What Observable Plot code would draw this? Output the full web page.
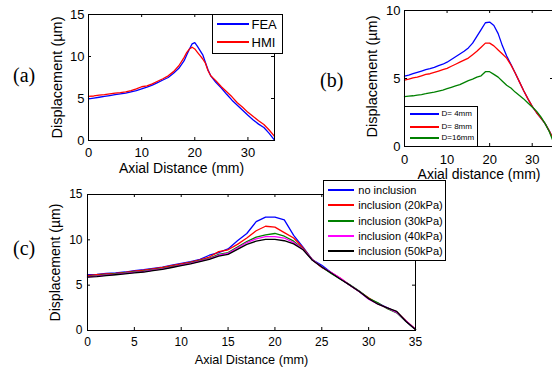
<!DOCTYPE html>
<html><head><meta charset="utf-8">
<script src="https://cdn.jsdelivr.net/npm/d3@7"></script>
<script src="https://cdn.jsdelivr.net/npm/@observablehq/plot@0.6"></script>
<style>
body{margin:0;background:#fff;}
#fig{position:relative;width:552px;height:369px;overflow:hidden;background:#fff;font-family:"Liberation Sans",Arial,Helvetica,sans-serif;color:#000;}
#fig svg.plot{position:absolute;background:transparent;overflow:visible;}
.lab{position:absolute;font-family:"Liberation Serif","Times New Roman",serif;font-size:20px;line-height:20px;transform:translateY(-50%);}
.leg{position:absolute;border:1px solid #000;background:#fff;box-sizing:border-box;}
.leg .sw{position:absolute;height:2px;transform:translateY(-50%);}
.leg .tx{position:absolute;white-space:nowrap;transform:translateY(-50%);line-height:1;}
</style></head><body><div id="fig"></div><script>
// ---------- data ----------
const aX = [0,1,2,3,4,5,6,7,8,9,10,11,12,13,14,15,16,17,18,18.5,19,19.5,20,20.5,21,21.5,22,22.5,23,24,25,26,27,28,29,30,31,32,33,34,35];
const aFEA = [4.95,5.05,5.15,5.25,5.35,5.45,5.55,5.65,5.8,5.95,6.15,6.35,6.6,6.9,7.2,7.5,8.0,8.6,9.5,10.2,10.9,11.5,11.65,11.2,10.7,10.2,9.3,8.4,7.7,6.9,6.25,5.5,4.8,4.2,3.6,3.0,2.45,1.95,1.55,0.85,0.05];
const aHMI = [5.25,5.3,5.4,5.45,5.55,5.65,5.7,5.8,5.95,6.15,6.4,6.5,6.75,7.05,7.35,7.7,8.2,8.9,9.9,10.5,10.9,11.1,10.9,10.5,10.1,9.7,9.2,8.3,7.7,7.1,6.4,5.8,5.2,4.5,3.95,3.35,2.85,2.35,1.9,1.25,0.5];
const aNames = ["FEA","HMI"];
const aColors = ["#0000ff","#ff0000"];

const bX = [0,1,2,3,4,5,6,7,8,9,10,11,12,13,14,15,16,17,18,19,20,21,22,23,24,25,26,27,28,29,30,31,32,33,34,35];
const bD4 = [5.17,5.25,5.35,5.45,5.55,5.65,5.72,5.82,5.95,6.05,6.2,6.4,6.6,6.8,7.0,7.25,7.6,8.1,8.6,9.1,9.15,8.9,8.3,7.4,6.65,6.05,5.4,4.75,4.1,3.5,2.95,2.5,2.1,1.7,1.15,0.5];
const bD8 = [4.88,4.95,5.05,5.1,5.2,5.3,5.35,5.45,5.55,5.65,5.75,5.9,6.05,6.2,6.35,6.5,6.75,7.0,7.3,7.6,7.6,7.4,7.1,6.8,6.5,6.0,5.4,4.75,4.1,3.5,2.95,2.5,2.1,1.7,1.15,0.5];
const bD16 = [3.66,3.7,3.73,3.78,3.82,3.88,3.95,4.0,4.08,4.15,4.25,4.35,4.45,4.55,4.7,4.85,4.95,5.1,5.2,5.5,5.5,5.3,5.1,4.8,4.5,4.3,4.0,3.75,3.5,3.2,2.9,2.6,2.2,1.7,1.1,0.3];
const bNames = ["D= 4mm","D= 8mm","D=16mm"];
const bColors = ["#0000ff","#ff0000","#008000"];

const cX = [0,1,2,3,4,5,6,7,8,9,10,11,12,13,14,15,16,17,18,19,20,21,22,23,24,25,26,27,28,29,30,31,32,33,34,35];
const cNone = [6.15,6.2,6.3,6.35,6.45,6.6,6.7,6.85,7.0,7.2,7.4,7.6,7.85,8.3,8.6,9.0,9.9,10.7,12.0,12.5,12.5,12.2,10.5,9.2,7.8,7.2,6.4,5.7,5.0,4.3,3.5,3.0,2.5,2.0,1.0,0.1];
const c20 = [6.05,6.15,6.25,6.3,6.4,6.55,6.65,6.8,6.95,7.15,7.35,7.55,7.8,8.1,8.7,8.9,9.5,10.2,11.0,11.5,11.4,10.8,10.2,9.1,7.8,6.95,6.4,5.75,5.0,4.3,3.6,2.95,2.45,2.05,1.05,0.15];
const c30 = [5.95,6.05,6.15,6.25,6.35,6.45,6.55,6.7,6.85,7.05,7.25,7.45,7.7,7.95,8.4,8.6,9.2,9.8,10.3,10.55,10.7,10.4,9.85,9.0,7.8,7.0,6.3,5.65,5.05,4.35,3.55,3.05,2.4,1.95,1.0,0.1];
const c40 = [5.92,6.0,6.1,6.2,6.3,6.4,6.5,6.65,6.8,7.0,7.2,7.4,7.65,7.9,8.3,8.5,9.1,9.7,10.1,10.35,10.35,10.2,9.7,8.95,7.8,7.0,6.4,5.75,5.0,4.3,3.45,2.9,2.5,2.0,1.05,0.15];
const c50 = [5.88,5.95,6.05,6.15,6.25,6.35,6.45,6.6,6.75,6.95,7.15,7.35,7.6,7.85,8.2,8.4,8.95,9.5,9.85,10.05,10.05,9.9,9.55,8.9,7.75,7.0,6.35,5.65,5.0,4.3,3.5,2.9,2.5,2.1,1.0,0.1];
const cNames = ["no inclusion","inclusion (20kPa)","inclusion (30kPa)","inclusion (40kPa)","inclusion (50kPa)"];
const cColors = ["#0000ff","#ff0000","#008000","#ff00ff","#000000"];

const xTicksA = [0,10,20,30];
const xTicksC = [0,5,10,15,20,25,30,35];
const yTicks15 = [0,5,10,15];
const yTicks10 = [0,5,10];
const yLabel = "Displacement (\u00b5m)";

// ---------- helpers ----------
const fig = document.getElementById("fig");

function panel(o) {
  const data = o.series.flatMap((vals, k) => o.xs.map((x, i) => ({x, y: vals[i], s: o.names[k]})));
  const fw = o.width - o.ml - o.mr, fh = o.height - o.mt - o.mb, tl = 3;
  const p = Plot.plot({
    width: o.width, height: o.height,
    marginLeft: o.ml, marginRight: o.mr, marginTop: o.mt, marginBottom: o.mb,
    x: {domain: [0, 35]},
    y: {domain: [0, o.yMax]},
    color: {domain: o.names, range: o.colors},
    style: {fontFamily: '"Liberation Sans", Arial, Helvetica, sans-serif', fontSize: o.fs + "px", background: "transparent", color: "#000"},
    marks: [
      Plot.axisX({ticks: o.xTicks, tickSize: 0, tickPadding: o.xPad, label: null, tickFormat: d => String(d)}),
      Plot.axisY({ticks: o.yTicks, tickSize: 0, tickPadding: o.yPad, label: null, tickFormat: d => String(d)}),
      Plot.ruleX(o.xTicks, {insetTop: fh - tl, stroke: "#000"}),
      Plot.ruleX(o.xTicks, {insetBottom: fh - tl, stroke: "#000"}),
      Plot.ruleY(o.yTicks, {insetRight: fw - tl, stroke: "#000"}),
      Plot.ruleY(o.yTicks, {insetLeft: fw - tl, stroke: "#000"}),
      Plot.line(data, {x: "x", y: "y", z: "s", stroke: "s", strokeWidth: 1.3}),
      Plot.frame({stroke: "#000", strokeWidth: 1}),
      Plot.text([o.xLabel], {text: d => d, frameAnchor: "bottom", textAnchor: "middle", lineAnchor: "middle", dy: o.xLabDy, dx: o.xLabDx || 0, fontSize: o.lfs, fill: "#000"}),
      Plot.text([yLabel], {text: d => d, frameAnchor: "left", textAnchor: "middle", lineAnchor: "middle", dx: o.yLabDx, dy: o.yLabDy || 0, rotate: -90, fontSize: o.ylfs || o.lfs, fill: "#000"})
    ]
  });
  p.classList.add("plot");
  p.style.left = o.left + "px";
  p.style.top = o.top + "px";
  fig.appendChild(p);
}

function legend(o) {
  const d = document.createElement("div");
  d.className = "leg";
  Object.assign(d.style, {left: o.x0 + "px", top: o.y0 + "px", width: (o.x1 - o.x0) + "px", height: (o.y1 - o.y0) + "px"});
  o.names.forEach((n, i) => {
    const y = o.ys[i] - o.y0;
    const sw = document.createElement("div");
    sw.className = "sw";
    Object.assign(sw.style, {left: (o.l0 - o.x0 - 1) + "px", width: (o.l1 - o.l0) + "px", top: (y - 1) + "px", background: o.colors[i]});
    const t = document.createElement("div");
    t.className = "tx";
    t.textContent = n;
    Object.assign(t.style, {left: (o.tx - o.x0 - 1) + "px", top: (y - 1) + "px", fontSize: o.fs + "px"});
    d.appendChild(sw); d.appendChild(t);
  });
  fig.appendChild(d);
}

function label(txt, x, y) {
  const d = document.createElement("div");
  d.className = "lab";
  d.textContent = txt;
  d.style.left = x + "px"; d.style.top = y + "px";
  fig.appendChild(d);
}

// ---------- panels ----------
panel({xs: aX, series: [aFEA, aHMI], names: aNames, colors: aColors,
  left: 0, top: 0, width: 290, height: 175, ml: 88, mr: 16, mt: 14, mb: 35,
  yMax: 15, xTicks: xTicksA, yTicks: yTicks15, fs: 13, xPad: 7, yPad: 4,
  xLabel: "Axial Distance (mm)", lfs: 14, xLabDy: 28, yLabDx: -31, ylfs: 14.5});

panel({xs: bX, series: [bD4, bD8, bD16], names: bNames, colors: bColors,
  left: 290, top: 0, width: 264, height: 185, ml: 114, mr: 1, mt: 10, mb: 39,
  yMax: 10, xTicks: xTicksA, yTicks: yTicks10, fs: 13, xPad: 8, yPad: 4,
  xLabel: "Axial distance (mm)", lfs: 14, xLabDy: 28, yLabDx: -32, yLabDy: -2, ylfs: 14.5});

panel({xs: cX, series: [cNone, c20, c30, c40, c50], names: cNames, colors: cColors,
  left: 0, top: 180, width: 552, height: 189, ml: 87, mr: 137, mt: 14, mb: 39,
  yMax: 15, xTicks: xTicksC, yTicks: yTicks15, fs: 12, xPad: 7, yPad: 5,
  xLabel: "Axial Distance (mm)", lfs: 12.7, xLabDy: 29.5, yLabDx: -32, ylfs: 14});

// ---------- legends ----------
legend({names: aNames, colors: aColors, x0: 211.5, y0: 13.5, x1: 282.5, y1: 53.5,
  l0: 216.5, l1: 248.5, tx: 251.5, ys: [24, 42.3], fs: 13});
legend({names: bNames, colors: bColors, x0: 404, y0: 106, x1: 478, y1: 147,
  l0: 410, l1: 438.5, tx: 441.5, ys: [114, 126.7, 138.3], fs: 8});
legend({names: cNames, colors: cColors, x0: 322.5, y0: 180, x1: 445.5, y1: 260.5,
  l0: 328, l1: 354, tx: 358.3, ys: [190, 205.3, 220.6, 235.9, 251.2], fs: 11});

// ---------- panel labels ----------
label("(a)", 13, 75);
label("(b)", 320, 80);
label("(c)", 13, 248);
</script></body></html>
